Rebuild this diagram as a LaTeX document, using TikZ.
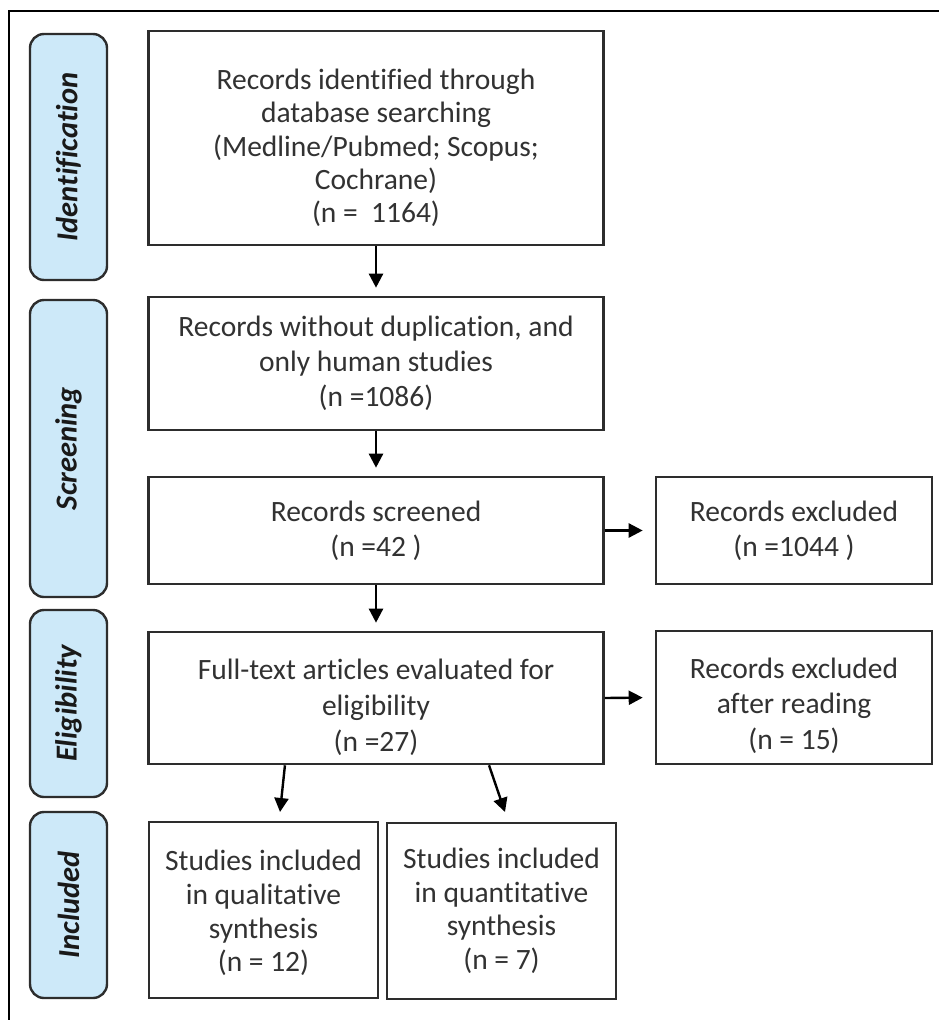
\documentclass[tikz,border=0pt]{standalone}
\usepackage{fontspec}
\setmainfont{Carlito}[RawFeature={-liga;-clig;-calt;-dlig;-rlig}]
\usetikzlibrary{arrows.meta,calc}
\definecolor{txt}{RGB}{50,50,50}
\definecolor{edge}{RGB}{45,45,45}
\definecolor{stagefill}{RGB}{205,233,249}
\begin{document}
\begin{tikzpicture}[x=1pt,y=-1pt,
  flowbox/.style={draw=edge, line width=2.6pt, rectangle, inner sep=0pt},
  flowtext/.style={inner sep=0pt, align=center, text=txt,
    font=\fontsize{29.5}{35}\selectfont},
  stage/.style={draw=edge, line width=2.4pt, fill=stagefill, rounded corners=14pt,
    rotate=90, inner sep=0pt, minimum height=77pt, text=black!90,
    font=\fontsize{30.5}{32}\selectfont\bfseries\itshape},
  arr/.style={draw=black, line width=2.4pt, -{Triangle[length=14pt,width=14pt]}},
  frameline/.style={draw=black, line width=2.6pt}
]
\useasboundingbox (0,0) rectangle (939,1020);
\fill[white] (0,0) rectangle (939,1020);
% outer frame (cropped)
\draw[frameline] (9,1020) -- (9,11) -- (939,11);

% stage labels
\node[stage, minimum width=246pt] (sid) at (68.5,157) {Identification};
\node[stage, minimum width=297pt] (ssc) at (68.5,448.5) {Screening};
\node[stage, minimum width=187pt] (sel) at (68.5,703.5) {Eligibility};
\node[stage, minimum width=186pt] (sin) at (68.5,905) {Included};

% flow boxes
\node[flowbox, minimum width=455pt, minimum height=214pt] (b1) at (376,138) {};
\node[flowbox, minimum width=455pt, minimum height=133pt] (b2) at (376,363.5) {};
\node[flowbox, minimum width=455pt, minimum height=107pt] (b3) at (376,530.5) {};
\node[flowbox, minimum width=276pt, minimum height=107pt] (x1) at (794,530.5) {};
\node[flowbox, minimum width=455pt, minimum height=132pt] (b4) at (376,698) {};
\node[flowbox, minimum width=276pt, minimum height=133pt] (x2) at (794,697.5) {};
\node[flowbox, minimum width=229pt, minimum height=176pt] (b5) at (263.5,910) {};
\node[flowbox, minimum width=229pt, minimum height=176pt] (b6) at (501.5,911) {};

% box texts
\node[flowtext, font=\fontsize{29.5}{33.3}\selectfont] (t1) at ([yshift=-10pt]b1.center)
  {Records identified through\\ database searching\\ (Medline/Pubmed; Scopus;\\ Cochrane)\\ (n =\ \ 1164)};
\node[flowtext] (t2) at (b2.center)
  {Records without duplication, and\\ only human studies\\ (n =1086)};
\node[flowtext] (t3) at (b3.center) {Records screened\\ (n =42 )};
\node[flowtext] (tx1) at (x1.center) {Records excluded\\ (n =1044 )};
\node[flowtext, font=\fontsize{29.5}{36}\selectfont] (t4) at ([yshift=-9pt]b4.center)
  {Full-text articles evaluated for\\ eligibility\\ (n =27)};
\node[flowtext, font=\fontsize{29.5}{35.5}\selectfont] (tx2) at ([yshift=-8pt]x2.center)
  {Records excluded\\ after reading\\ (n = 15)};
\node[flowtext, font=\fontsize{29.5}{33.7}\selectfont] (t5) at ([yshift=-3pt]b5.center)
  {Studies included\\ in qualitative\\ synthesis\\ (n = 12)};
\node[flowtext, font=\fontsize{29.5}{33.5}\selectfont] (t6) at (b6.center)
  {Studies included\\ in quantitative\\ synthesis\\ (n = 7)};

% connectors
\draw[arr, shorten >=8pt] (b1.south) -- (b2.north);
\draw[arr, shorten >=8pt] (b2.south) -- (b3.north);
\draw[arr, shorten >=8pt] (b3.south) -- (b4.north);
\draw[arr, shorten >=12pt] (b3.east) -- (x1.west);
\draw[arr, shorten >=12pt] (b4.east) -- (x2.west);
\coordinate (e1) at (280,812);
\coordinate (e2) at (505,812);
\draw[arr] ($(b4.south west)!0.301!(b4.south east)$) -- (e1);
\draw[arr] ($(b4.south west)!0.747!(b4.south east)$) -- (e2);
\end{tikzpicture}
\end{document}
